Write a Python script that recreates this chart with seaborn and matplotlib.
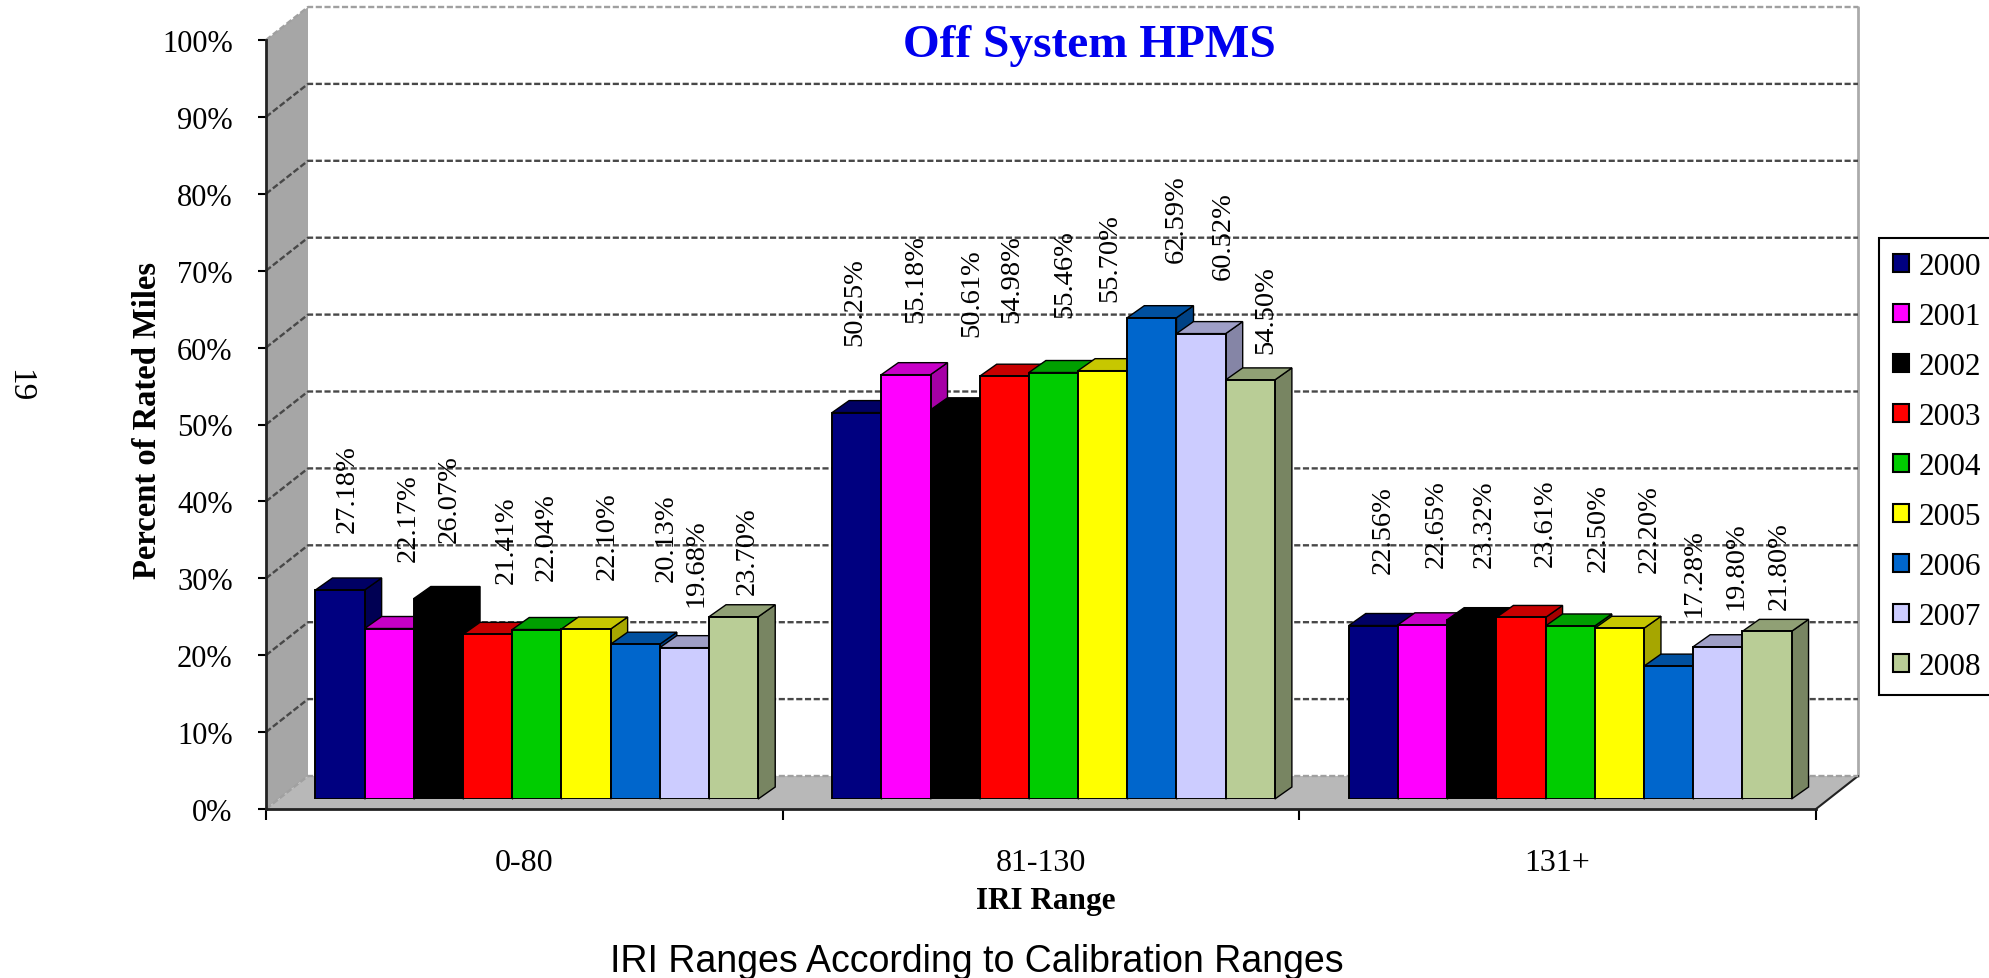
"""Off System HPMS: percent of rated miles per IRI range, 2000-2008, drawn with a fake 3D look."""
import matplotlib
matplotlib.use("Agg")
import matplotlib.pyplot as plt
from matplotlib.colors import to_rgb
from matplotlib.patches import Patch, Polygon
import pandas as pd
import seaborn as sns

RANGES = ["0-80", "81-130", "131+"]
YEARS = ["2000", "2001", "2002", "2003", "2004", "2005", "2006", "2007", "2008"]

VALUES_0_80 = [27.18, 22.17, 26.07, 21.41, 22.04, 22.10, 20.13, 19.68, 23.70]
VALUES_81_130 = [50.25, 55.18, 50.61, 54.98, 55.46, 55.70, 62.59, 60.52, 54.50]
VALUES_131 = [22.56, 22.65, 23.32, 23.61, 22.50, 22.20, 17.28, 19.80, 21.80]

COLORS = ["#000080", "#FF00FF", "#000000", "#FF0000", "#00CC00",
          "#FFFF00", "#0066CC", "#CCCCFF", "#B9CD96"]

# the labels were hand placed in the original, pixel nudges from each bar top
NUDGE_X = [7, 19, 11, 19, 9, 21, 31, 12, 14,
           -2, 10, 17, 8, 11, 7, 24, 22, 16,
           10, 14, 12, 24, 28, 30, 25, 18, 12]
NUDGE_Y = [58, 68, 57, 51, 50, 50, 63, 42, 23,
           68, 53, 74, 54, 56, 70, 56, 55, 27,
           53, 58, 53, 51, 55, 56, 50, 38, 22]

W, H = 1990, 979
SERIF = "Liberation Serif"


def axes_box(left, bottom_y, width, height):
    return [left / W, (H - bottom_y) / H, width / W, height / H]


def fig_xy(x, y):
    return x / W, 1 - y / H


sns.set_theme(style="white")
plt.rcParams["font.family"] = [SERIF, "DejaVu Sans"]
plt.rcParams.update({"text.color": "black", "xtick.labelcolor": "black", "ytick.labelcolor": "black"})

df = pd.DataFrame({
    "range": [r for r in RANGES for _ in YEARS],
    "year": YEARS * len(RANGES),
    "value": VALUES_0_80 + VALUES_81_130 + VALUES_131,
})

fig = plt.figure(figsize=(W / 100, H / 100), dpi=100, facecolor="white")

# axis frame, walls and floor
ax = fig.add_axes(axes_box(266, 810, 1550, 769), facecolor="none")
ax.set_xlim(-0.5, 2.5)
ax.set_ylim(0, 100)
wall_dx, wall_dy = 42 / (1550 / 3), 33 / 7.69

ax.add_patch(Polygon([(-0.5, 0), (-0.5 + wall_dx, wall_dy), (-0.5 + wall_dx, 100 + wall_dy), (-0.5, 100)],
                     facecolor="#A6A6A6", edgecolor="none", clip_on=False, zorder=1))
ax.add_patch(Polygon([(-0.5, 0), (2.5, 0), (2.5 + wall_dx, wall_dy), (-0.5 + wall_dx, wall_dy)],
                     facecolor="#B8B8B8", edgecolor="none", clip_on=False, zorder=1))
ax.plot([2.5 + wall_dx] * 2, [wall_dy, 100 + wall_dy], color="#ABABAB", lw=2, clip_on=False, zorder=1)
ax.plot([2.5, 2.5 + wall_dx], [0, wall_dy], color="#222222", lw=1.5, clip_on=False, zorder=2)

for tick in range(0, 101, 10):
    grid_color = "#A0A0A0" if tick in (0, 100) else "#484848"
    ax.plot([-0.5, -0.5 + wall_dx, 2.5 + wall_dx], [tick, tick + wall_dy, tick + wall_dy],
            color=grid_color, lw=1.7, ls=(0, (2.6, 1.1)), clip_on=False, zorder=2)

ax.set_yticks(range(0, 101, 10), [f"{t}%" for t in range(0, 101, 10)], fontsize=22)
ax.set_xticks(range(len(RANGES)), RANGES, fontsize=23)
ax.set_xticks([-0.5, 0.5, 1.5, 2.5], minor=True)
ax.tick_params(axis="y", direction="out", length=6, width=1.5, color="black", pad=18, left=True)
ax.tick_params(axis="x", which="major", length=0, pad=28)
ax.tick_params(axis="x", which="minor", direction="out", length=8, width=1.5, color="black", bottom=True)
sns.despine(ax=ax, top=True, right=True)
for side in ("left", "bottom"):
    ax.spines[side].set_color("#222222")
    ax.spines[side].set_linewidth(2)

# bars sit a little deeper than the axis frame
ax_bars = fig.add_axes(axes_box(278.5, 800, 1550, 769), facecolor="none")
sns.barplot(data=df, x="range", y="value", hue="year", order=RANGES, hue_order=YEARS,
            palette=COLORS, width=0.857, gap=0, dodge=True, saturation=1, legend=False,
            edgecolor="black", linewidth=1.4, ax=ax_bars)
ax_bars.set_xlim(-0.5, 2.5)
ax_bars.set_ylim(0, 100)
ax_bars.axis("off")

depth_dx, depth_dy = 17 / (1550 / 3), 12 / 7.69
bars = sorted(ax_bars.patches, key=lambda p: p.get_x())
for i, bar in enumerate(bars):
    x0, x1 = bar.get_x(), bar.get_x() + bar.get_width()
    top = bar.get_height()
    base = to_rgb(bar.get_facecolor())
    z = 3 + i * 0.1
    side_color = tuple(c * 0.65 for c in base)
    top_color = tuple(c * 0.78 for c in base)
    ax_bars.add_patch(Polygon([(x1, 0), (x1 + depth_dx, depth_dy), (x1 + depth_dx, top + depth_dy), (x1, top)],
                              facecolor=side_color, edgecolor="black", lw=1, clip_on=False, zorder=z))
    ax_bars.add_patch(Polygon([(x0, top), (x0 + depth_dx, top + depth_dy), (x1 + depth_dx, top + depth_dy), (x1, top)],
                              facecolor=top_color, edgecolor="black", lw=1, clip_on=False, zorder=z + 0.01))
    bar.set_zorder(z + 0.02)
    ax_bars.annotate(f"{top:.2f}%", xy=((x0 + x1) / 2, top), xytext=(NUDGE_X[i], NUDGE_Y[i]),
                     textcoords="offset pixels", rotation=90, ha="center", va="bottom",
                     fontsize=20.5, color="black", zorder=20, annotation_clip=False)

handles = [Patch(facecolor=c, edgecolor="black", linewidth=1.5) for c in COLORS]
fig.legend(handles, YEARS, loc="upper left", bbox_to_anchor=fig_xy(1879, 239), bbox_transform=fig.transFigure,
           ncol=1, fontsize=22.5, frameon=True, fancybox=False, framealpha=1, edgecolor="black",
           borderaxespad=0, borderpad=0.46, labelspacing=0.67, handlelength=0.5, handleheight=0.5,
           handletextpad=0.3, labelcolor="black").get_frame().set_linewidth(1.5)

fig.text(*fig_xy(1089, 46), "Off System HPMS", color="#0000EE", fontsize=34, fontweight="bold", ha="center", va="center")
fig.text(*fig_xy(148, 421), "Percent of Rated Miles", fontsize=23.5, fontweight="bold", rotation=90, ha="center", va="center")
fig.text(*fig_xy(1046, 902), "IRI Range", fontsize=22.5, fontweight="bold", ha="center", va="center")
fig.text(*fig_xy(19, 386), "19", fontsize=24, rotation=-90, ha="center", va="center")
fig.text(*fig_xy(977, 962), "IRI Ranges According to Calibration Ranges", fontsize=27, family="Liberation Sans",
         ha="center", va="center")

fig.savefig("out.png", dpi=100)
plt.close(fig)
